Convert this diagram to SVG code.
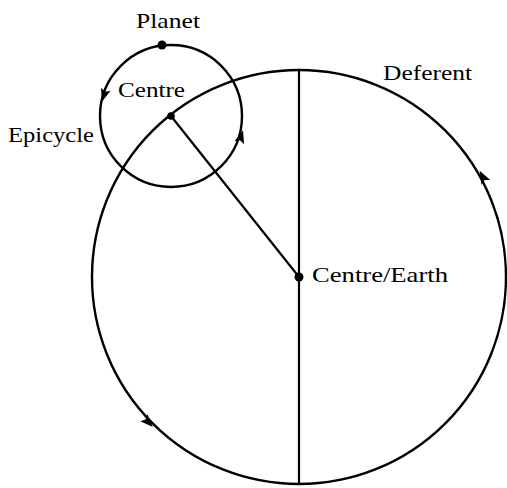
<svg xmlns="http://www.w3.org/2000/svg" width="507" height="488" viewBox="0 0 507 488">
<style>
.c{fill:none;stroke:#000;stroke-width:2.4}
.l{stroke:#000;stroke-width:2.2}
.t{font-family:"Liberation Serif","Times New Roman",serif;font-size:21px;fill:#000}
.d{fill:#000}
</style>
<defs>
<path id="ah" d="M7,0 L-6,-5 L-3.5,0 L-6,5 Z" fill="#000"/>
</defs>
<g id="deferent">
<circle class="c" cx="299" cy="277" r="207"/>
<use href="#ah" transform="translate(483,177) rotate(-118.5)"/>
<use href="#ah" transform="translate(148,422) rotate(46.2)"/>
<text class="t" x="383" y="80" textLength="89" lengthAdjust="spacingAndGlyphs">Deferent</text>
</g>
<g id="epicycle">
<circle class="c" cx="171" cy="116" r="71"/>
<use href="#ah" transform="translate(104,95) rotate(107.4)"/>
<use href="#ah" transform="translate(241,137) rotate(-73.3)"/>
<text class="t" x="8" y="142" textLength="86" lengthAdjust="spacingAndGlyphs">Epicycle</text>
</g>
<g id="connectors">
<line class="l" x1="299" y1="70" x2="299" y2="484"/>
<line class="l" x1="171" y1="116" x2="299" y2="277" stroke-width="2.6"/>
</g>
<g id="planet">
<circle class="d" cx="162" cy="45" r="4.5"/>
<text class="t" x="136" y="28" textLength="64" lengthAdjust="spacingAndGlyphs">Planet</text>
</g>
<g id="centre">
<circle class="d" cx="171" cy="116" r="3.8"/>
<text class="t" x="118" y="97" textLength="67" lengthAdjust="spacingAndGlyphs">Centre</text>
</g>
<g id="earth">
<circle class="d" cx="299" cy="277" r="4.5"/>
<text class="t" x="312" y="282" textLength="136" lengthAdjust="spacingAndGlyphs">Centre/Earth</text>
</g>
</svg>
